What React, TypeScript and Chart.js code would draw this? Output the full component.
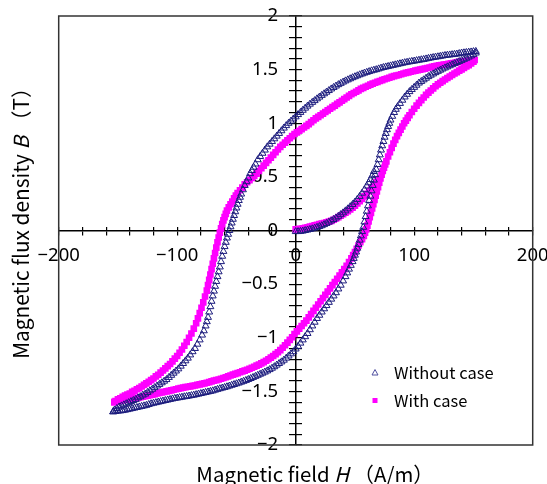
import React, { useEffect, useRef } from 'react';
import { Chart, registerables } from 'chart.js';

Chart.register(...registerables);

const FONT_CJK = '"Noto Sans CJK JP", "Noto Sans", sans-serif';
const FONT_TICK = '"Noto Sans", sans-serif';

// ---- axis ranges and labelled ticks ----
const xRange = [-200, 200];
const yRange = [-2, 2];
const xLabelledTicks = [-200, -100, 0, 100, 200];
const yLabelledTicks = [-2, -1.5, -1, -0.5, 0, 0.5, 1, 1.5, 2];
const xMinorStep = 20;
const yMinorStep = 0.1;

const seriesNames = ['Without case', 'With case'];
const xTitle = ['Magnetic field ', 'H', ' \uFF08A/m\uFF09'];
const yTitle = ['Magnetic flux density ', 'B', ' \uFF08T\uFF09'];

// ---- Without case: [H (A/m), B (T)] ----
const withoutInitial: [number, number][] = [
  [0, -0.01], [2, -0.01], [4, -0.008], [6, -0.005], [8, 0], [10, 0.005], [12, 0.01], [14, 0.016],
  [16, 0.022], [18, 0.03], [20, 0.037], [22, 0.045], [24, 0.055], [26, 0.066], [28, 0.078],
  [30, 0.09], [32, 0.103], [34, 0.117], [36, 0.132], [38, 0.148], [40, 0.165], [42, 0.183],
  [44, 0.202], [46, 0.222], [48, 0.243], [50, 0.265], [52, 0.29], [54, 0.318], [56, 0.348],
  [58, 0.38], [60, 0.415], [61.5, 0.445], [63, 0.475], [64.5, 0.51], [66, 0.55],
];

const withoutDescending: [number, number][] = [
  [152, 1.67], [150, 1.668], [148, 1.665], [146, 1.663], [144, 1.66], [142, 1.657], [140, 1.655],
  [138, 1.65], [136, 1.645], [134, 1.643], [132, 1.64], [130, 1.637], [128, 1.635], [126, 1.632],
  [124, 1.628], [122, 1.624], [120, 1.62], [118, 1.617], [116, 1.613], [114, 1.609], [112, 1.605],
  [110, 1.6], [108, 1.595], [106, 1.592], [104, 1.588], [102, 1.584], [100, 1.58], [98, 1.577],
  [96, 1.573], [94, 1.569], [92, 1.565], [90, 1.56], [88, 1.555], [86, 1.55], [84, 1.545],
  [82, 1.54], [80, 1.535], [78, 1.53], [76, 1.525], [74, 1.52], [72, 1.514], [70, 1.507],
  [68, 1.5], [66, 1.495], [64, 1.489], [62, 1.482], [60, 1.475], [58, 1.468], [56, 1.46],
  [54, 1.452], [52, 1.443], [50, 1.434], [48, 1.425], [46, 1.415], [44, 1.405], [42, 1.395],
  [40, 1.384], [38, 1.372], [36, 1.36], [34, 1.347], [32, 1.334], [30, 1.32], [28, 1.305],
  [26, 1.29], [24, 1.275], [22, 1.26], [20, 1.244], [18, 1.228], [16, 1.211], [14, 1.195],
  [12, 1.178], [10, 1.16], [8, 1.141], [6, 1.121], [4, 1.101], [2, 1.081], [0, 1.06],
  [-2, 1.04], [-4, 1.02], [-6, 1.0], [-8, 0.978], [-10, 0.955], [-12, 0.93], [-14, 0.905],
  [-16, 0.88], [-18, 0.855], [-20, 0.83], [-22, 0.805], [-24, 0.78], [-26, 0.75], [-28, 0.72],
  [-30, 0.69], [-32, 0.66], [-34, 0.62], [-35.5, 0.59], [-37, 0.56], [-38.5, 0.53], [-40, 0.49],
  [-41.5, 0.455], [-43, 0.42], [-44.5, 0.38], [-46, 0.34], [-47, 0.31], [-48, 0.28], [-49, 0.245],
  [-50, 0.21], [-51, 0.175], [-52, 0.14], [-53, 0.105], [-54, 0.07], [-55, 0.035], [-56, 0],
  [-57, -0.035], [-58, -0.07], [-59, -0.11], [-60, -0.15], [-61, -0.195], [-62, -0.24],
  [-63, -0.29], [-64, -0.34], [-65, -0.385], [-66, -0.43], [-67, -0.475], [-68, -0.52],
  [-69, -0.565], [-70, -0.61], [-71, -0.66], [-72, -0.71], [-73, -0.76], [-74, -0.81],
  [-75, -0.85], [-76, -0.89], [-77.5, -0.935], [-79, -0.975], [-81, -1.02], [-83, -1.06],
  [-85, -1.1], [-87, -1.13], [-89, -1.16], [-91, -1.19], [-93, -1.215], [-95, -1.24],
  [-97, -1.265], [-99, -1.29], [-101, -1.31], [-103, -1.33], [-105, -1.35], [-107, -1.37],
  [-109, -1.39], [-111, -1.405], [-113, -1.42], [-115, -1.435], [-117, -1.45], [-119, -1.465],
  [-121, -1.48], [-123, -1.495], [-125, -1.51], [-127, -1.525], [-129, -1.535], [-131, -1.55],
  [-133, -1.56], [-135, -1.575], [-137, -1.585], [-139, -1.595], [-141, -1.605], [-143, -1.615],
  [-145, -1.625], [-147, -1.635], [-149, -1.645], [-151, -1.66], [-153, -1.675], [-154, -1.69],
];

const withoutAscending: [number, number][] = [
  [-154, -1.69], [-152, -1.687], [-150, -1.684], [-148, -1.682], [-146, -1.679], [-144, -1.675],
  [-142, -1.67], [-140, -1.665], [-138, -1.66], [-136, -1.655], [-134, -1.65], [-132, -1.645],
  [-130, -1.64], [-128, -1.635], [-126, -1.63], [-124, -1.622], [-122, -1.615], [-120, -1.61],
  [-118, -1.605], [-116, -1.6], [-114, -1.595], [-112, -1.59], [-110, -1.585], [-108, -1.58],
  [-106, -1.575], [-104, -1.57], [-102, -1.565], [-100, -1.562], [-98, -1.558], [-96, -1.554],
  [-94, -1.55], [-92, -1.547], [-90, -1.543], [-88, -1.539], [-86, -1.535], [-84, -1.53],
  [-82, -1.525], [-80, -1.52], [-78, -1.515], [-76, -1.51], [-74, -1.505], [-72, -1.5],
  [-70, -1.495], [-68, -1.488], [-66, -1.481], [-64, -1.475], [-62, -1.469], [-60, -1.463],
  [-58, -1.457], [-56, -1.45], [-54, -1.443], [-52, -1.436], [-50, -1.429], [-48, -1.422],
  [-46, -1.414], [-44, -1.406], [-42, -1.398], [-40, -1.389], [-38, -1.38], [-36, -1.37],
  [-34, -1.36], [-32, -1.35], [-30, -1.34], [-28, -1.33], [-26, -1.32], [-24, -1.309],
  [-22, -1.297], [-20, -1.284], [-18, -1.27], [-16, -1.255], [-14, -1.24], [-12, -1.225],
  [-10, -1.209], [-8, -1.19], [-6, -1.17], [-4, -1.15], [-2, -1.13], [0, -1.105], [2, -1.08],
  [4, -1.05], [6, -1.02], [8, -0.99], [10, -0.96], [12, -0.925], [14, -0.89], [16, -0.855],
  [18, -0.82], [20, -0.79], [22, -0.76], [24, -0.73], [26, -0.7], [28, -0.67], [30, -0.64],
  [32, -0.61], [34, -0.58], [36, -0.545], [38, -0.51], [40, -0.47], [42, -0.43], [43.5, -0.395],
  [45, -0.36], [46.5, -0.325], [48, -0.29], [49, -0.26], [50, -0.23], [51, -0.2], [52, -0.165],
  [53, -0.13], [54, -0.09], [55, -0.05], [56, -0.01], [57, 0.03], [58, 0.08], [59, 0.13],
  [60, 0.18], [61, 0.23], [62, 0.28], [63, 0.32], [64, 0.37], [65, 0.42], [66, 0.47], [67, 0.52],
  [68, 0.57], [69, 0.615], [70, 0.66], [71, 0.705], [72, 0.75], [73, 0.79], [74, 0.83],
  [75, 0.87], [76, 0.905], [77, 0.94], [78, 0.97], [79, 1.0], [80, 1.03], [81.5, 1.065],
  [83, 1.1], [84.5, 1.13], [86, 1.155], [88, 1.185], [90, 1.215], [92, 1.245], [94, 1.27],
  [96, 1.295], [98, 1.315], [100, 1.335], [102, 1.355], [104, 1.375], [106, 1.39], [108, 1.405],
  [110, 1.42], [112, 1.435], [114, 1.448], [116, 1.46], [118, 1.472], [120, 1.484], [122, 1.495],
  [124, 1.506], [126, 1.516], [128, 1.526], [130, 1.536], [132, 1.546], [134, 1.556],
  [136, 1.566], [138, 1.576], [140, 1.586], [142, 1.596], [144, 1.606], [146, 1.617],
  [148, 1.628], [150, 1.64], [152, 1.655],
];

// ---- With case: [H (A/m), B (T)] ----
const withInitial: [number, number][] = [
  [0, 0.01], [2, 0.013], [4, 0.016], [6, 0.02], [8, 0.025], [10, 0.03], [12, 0.036], [14, 0.042],
  [16, 0.048], [18, 0.054], [20, 0.06], [22, 0.065], [24, 0.07], [26, 0.076], [28, 0.083],
  [30, 0.09], [32, 0.1], [34, 0.112], [36, 0.125], [38, 0.138], [40, 0.152], [42, 0.166],
  [44, 0.18], [46, 0.196], [48, 0.213], [50, 0.232], [52, 0.252], [54, 0.273], [56, 0.295],
  [58, 0.318], [60, 0.342], [62, 0.367], [64, 0.393], [66, 0.42], [68, 0.45], [70, 0.48],
];

const withDescending: [number, number][] = [
  [151, 1.59], [149, 1.588], [147, 1.585], [145, 1.583], [143, 1.58], [141, 1.577], [139, 1.574],
  [137, 1.57], [135, 1.566], [133, 1.562], [131, 1.558], [129, 1.554], [127, 1.55], [125, 1.547],
  [123, 1.543], [121, 1.539], [119, 1.535], [117, 1.53], [115, 1.525], [113, 1.52], [111, 1.515],
  [109, 1.51], [107, 1.505], [105, 1.5], [103, 1.495], [101, 1.49], [99, 1.485], [97, 1.48],
  [95, 1.475], [93, 1.47], [91, 1.464], [89, 1.457], [87, 1.45], [85, 1.445], [83, 1.44],
  [81, 1.432], [79, 1.424], [77, 1.417], [75, 1.41], [73, 1.402], [71, 1.394], [69, 1.386],
  [67, 1.378], [65, 1.369], [63, 1.36], [61, 1.35], [59, 1.34], [57, 1.33], [55, 1.32],
  [53, 1.307], [51, 1.294], [49, 1.282], [47, 1.27], [45, 1.255], [43, 1.24], [41, 1.225],
  [39, 1.21], [37, 1.195], [35, 1.18], [33, 1.165], [31, 1.15], [29, 1.135], [27, 1.12],
  [25, 1.105], [23, 1.09], [21, 1.075], [19, 1.06], [17, 1.045], [15, 1.028], [13, 1.01],
  [11, 0.992], [9, 0.976], [7, 0.96], [5, 0.945], [3, 0.93], [1, 0.915], [-1, 0.9], [-3, 0.88],
  [-5, 0.86], [-7, 0.84], [-9, 0.82], [-11, 0.8], [-13, 0.78], [-15, 0.755], [-17, 0.73],
  [-19, 0.705], [-21, 0.68], [-23, 0.655], [-25, 0.63], [-27, 0.605], [-29, 0.58], [-31, 0.555],
  [-33, 0.53], [-35, 0.51], [-37, 0.49], [-39, 0.47], [-41, 0.45], [-43, 0.43], [-45, 0.4],
  [-47, 0.375], [-49, 0.35], [-50.5, 0.325], [-52, 0.3], [-53.5, 0.27], [-55, 0.245],
  [-56.5, 0.215], [-58, 0.185], [-59, 0.155], [-60, 0.125], [-61, 0.095], [-62, 0.06],
  [-63, 0.02], [-64, -0.02], [-65, -0.065], [-66, -0.11], [-67, -0.16], [-68, -0.21],
  [-69, -0.26], [-70, -0.31], [-71, -0.36], [-72, -0.41], [-73, -0.46], [-74, -0.51],
  [-75, -0.56], [-76.5, -0.615], [-78, -0.67], [-79.5, -0.72], [-81, -0.77], [-82.5, -0.82],
  [-84, -0.865], [-86, -0.915], [-88, -0.96], [-90, -1.0], [-92, -1.04], [-94, -1.075],
  [-96, -1.11], [-98, -1.14], [-100, -1.17], [-102, -1.195], [-104, -1.22], [-106, -1.245],
  [-108, -1.265], [-110, -1.285], [-112, -1.305], [-114, -1.325], [-116, -1.345], [-118, -1.36],
  [-120, -1.38], [-122, -1.395], [-124, -1.41], [-126, -1.425], [-128, -1.44], [-130, -1.455],
  [-132, -1.47], [-134, -1.48], [-136, -1.495], [-138, -1.505], [-140, -1.52], [-142, -1.53],
  [-144, -1.54], [-146, -1.55], [-148, -1.565], [-150, -1.575], [-152, -1.59], [-153, -1.6],
];

const withAscending: [number, number][] = [
  [-153, -1.6], [-151, -1.595], [-149, -1.59], [-147, -1.585], [-145, -1.58], [-143, -1.578],
  [-141, -1.575], [-139, -1.572], [-137, -1.568], [-135, -1.564], [-133, -1.56], [-131, -1.555],
  [-129, -1.55], [-127, -1.545], [-125, -1.54], [-123, -1.535], [-121, -1.53], [-119, -1.525],
  [-117, -1.52], [-115, -1.515], [-113, -1.51], [-111, -1.505], [-109, -1.5], [-107, -1.495],
  [-105, -1.49], [-103, -1.485], [-101, -1.48], [-99, -1.475], [-97, -1.47], [-95, -1.465],
  [-93, -1.46], [-91, -1.457], [-89, -1.453], [-87, -1.449], [-85, -1.445], [-83, -1.44],
  [-81, -1.435], [-79, -1.43], [-77, -1.425], [-75, -1.42], [-73, -1.414], [-71, -1.407],
  [-69, -1.4], [-67, -1.395], [-65, -1.389], [-63, -1.382], [-61, -1.375], [-59, -1.368],
  [-57, -1.36], [-55, -1.352], [-53, -1.344], [-51, -1.337], [-49, -1.33], [-47, -1.322],
  [-45, -1.314], [-43, -1.306], [-41, -1.298], [-39, -1.289], [-37, -1.28], [-35, -1.27],
  [-33, -1.26], [-31, -1.25], [-29, -1.239], [-27, -1.227], [-25, -1.214], [-23, -1.2],
  [-21, -1.185], [-19, -1.17], [-17, -1.153], [-15, -1.135], [-13, -1.115], [-11, -1.093],
  [-9, -1.07], [-7, -1.045], [-5, -1.02], [-3, -0.995], [-1, -0.965], [1, -0.94], [3, -0.915],
  [5, -0.89], [7, -0.865], [9, -0.84], [11, -0.81], [13, -0.78], [15, -0.75], [17, -0.72],
  [19, -0.69], [21, -0.66], [23, -0.63], [25, -0.6], [27, -0.57], [29, -0.54], [31, -0.51],
  [33, -0.48], [35, -0.45], [37, -0.42], [39, -0.39], [41, -0.36], [43, -0.33], [45, -0.295],
  [47, -0.26], [48.5, -0.23], [50, -0.2], [51.5, -0.17], [53, -0.14], [54.5, -0.11], [56, -0.08],
  [57.5, -0.05], [58.5, -0.02], [59.5, 0.01], [60.5, 0.045], [61.5, 0.085], [62.5, 0.125],
  [63.5, 0.165], [64.5, 0.205], [65.5, 0.245], [66.5, 0.285], [67.5, 0.325], [68.5, 0.365],
  [69.5, 0.405], [70.5, 0.445], [71.5, 0.485], [72.5, 0.52], [73.5, 0.555], [74.5, 0.585],
  [75.5, 0.615], [76.5, 0.645], [78, 0.69], [79.5, 0.73], [81, 0.77], [82.5, 0.81], [84, 0.845],
  [85.5, 0.88], [87, 0.91], [88.5, 0.94], [90, 0.97], [91.5, 1.0], [93, 1.025], [94.5, 1.05],
  [96, 1.075], [98, 1.105], [100, 1.135], [102, 1.165], [104, 1.19], [106, 1.215], [108, 1.24],
  [110, 1.265], [112, 1.285], [114, 1.305], [116, 1.325], [118, 1.345], [120, 1.362],
  [122, 1.378], [124, 1.393], [126, 1.408], [128, 1.422], [130, 1.436], [132, 1.45],
  [134, 1.464], [136, 1.477], [138, 1.49], [140, 1.503], [142, 1.516], [144, 1.529],
  [146, 1.542], [148, 1.557], [150, 1.575],
];

const toPoints = (...parts: [number, number][][]) =>
  parts.flat().map(([x, y]) => ({ x, y }));

const fmt = (v: number) => (v < 0 ? '\u2212' + String(Math.abs(v)) : String(v));
const isLabelled = (v: number, list: number[]) => list.some((t) => Math.abs(t - v) < 1e-6);

const NAVY = 'rgb(28, 28, 125)';
const MAGENTA = '#ff00ff';

const zeroPadding = (scale: any) => {
  scale.paddingLeft = 0;
  scale.paddingRight = 0;
  scale.paddingTop = 0;
  scale.paddingBottom = 0;
};

const decorPlugin = {
  id: 'decor',
  afterDraw(chart: any) {
    const { ctx, chartArea: a } = chart;
    ctx.save();
    // frame
    ctx.strokeStyle = '#333';
    ctx.lineWidth = 1.5;
    ctx.strokeRect(a.left, a.top, a.right - a.left, a.bottom - a.top);

    const drawMixed = (parts: string[], size: number) => {
      const fonts = [`${size}px ${FONT_CJK}`, `italic ${size}px ${FONT_CJK}`, `${size}px ${FONT_CJK}`];
      let total = 0;
      const widths = parts.map((p, i) => {
        ctx.font = fonts[i];
        const w = ctx.measureText(p).width;
        total += w;
        return w;
      });
      let x = -total / 2;
      parts.forEach((p, i) => {
        ctx.font = fonts[i];
        ctx.fillText(p, x, 0);
        x += widths[i];
      });
    };

    ctx.fillStyle = '#000';
    ctx.textBaseline = 'middle';
    ctx.textAlign = 'left';
    // x title
    ctx.save();
    ctx.translate(315, 474);
    drawMixed(xTitle, 20.4);
    ctx.restore();
    // y title
    ctx.save();
    ctx.translate(21, 218);
    ctx.rotate(-Math.PI / 2);
    drawMixed(yTitle, 20.8);
    ctx.restore();

    // legend
    ctx.font = `16.5px ${FONT_CJK}`;
    ctx.fillStyle = '#000';
    ctx.fillText(seriesNames[0], 394, 373);
    ctx.fillText(seriesNames[1], 394, 401);
    ctx.strokeStyle = 'rgb(80, 80, 160)';
    ctx.lineWidth = 1;
    ctx.beginPath();
    ctx.moveTo(375, 369.5);
    ctx.lineTo(378, 375);
    ctx.lineTo(372, 375);
    ctx.closePath();
    ctx.stroke();
    ctx.fillStyle = MAGENTA;
    ctx.fillRect(372.5, 398, 5, 5);
    ctx.restore();
  },
};

export default function App() {
  const ref = useRef<HTMLCanvasElement>(null);

  useEffect(() => {
    const tickFont = { family: FONT_TICK, size: 18.5 };
    const xGrid = { drawOnChartArea: false, drawTicks: true, tickLength: 4, color: '#000', lineWidth: 1.2 };
    const yGrid = { ...xGrid, tickLength: 6 };
    const chart = new Chart(ref.current as HTMLCanvasElement, {
      type: 'scatter',
      data: {
        datasets: [
          {
            label: seriesNames[0],
            data: toPoints(withoutInitial, withoutDescending, withoutAscending),
            pointStyle: 'triangle',
            pointRadius: 4,
            borderWidth: 1,
            borderColor: NAVY,
            backgroundColor: 'rgba(0,0,0,0)',
            showLine: false,
          },
          {
            label: seriesNames[1],
            data: toPoints(withInitial, withDescending, withAscending),
            pointStyle: 'rect',
            pointRadius: 4.7,
            borderWidth: 0,
            borderColor: MAGENTA,
            backgroundColor: MAGENTA,
            showLine: false,
          },
        ],
      },
      options: {
        animation: false,
        responsive: false,
        devicePixelRatio: 1,
        events: [],
        layout: { padding: { left: 58.7, top: 16, right: 14.3, bottom: 39 } },
        plugins: { legend: { display: false }, tooltip: { enabled: false } },
        scales: {
          x: {
            type: 'linear',
            position: 'center',
            min: xRange[0],
            max: xRange[1],
            grid: xGrid,
            border: { display: true, color: '#000', width: 1.5 },
            afterFit: zeroPadding,
            ticks: {
              stepSize: xMinorStep,
              autoSkip: false,
              maxRotation: 0,
              padding: 10,
              color: '#000',
              font: tickFont,
              callback: (v: any) => (isLabelled(Number(v), xLabelledTicks) ? fmt(Math.round(Number(v))) : ''),
            },
          },
          y: {
            type: 'linear',
            position: 'center',
            min: yRange[0],
            max: yRange[1],
            grid: yGrid,
            border: { display: true, color: '#000', width: 1.5 },
            afterFit: zeroPadding,
            ticks: {
              stepSize: yMinorStep,
              autoSkip: false,
              padding: 11.5,
              color: '#000',
              font: tickFont,
              callback: (v: any) =>
                isLabelled(Number(v), yLabelledTicks) ? fmt(Math.round(Number(v) * 10) / 10) : '',
            },
          },
          x2: {
            type: 'linear',
            axis: 'x',
            display: true,
            position: 'center',
            min: xRange[0],
            max: xRange[1],
            grid: { ...xGrid, tickLength: -4 },
            border: { display: false },
            afterFit: zeroPadding,
            ticks: { stepSize: xMinorStep, autoSkip: false, display: false },
          },
          y2: {
            type: 'linear',
            axis: 'y',
            display: true,
            position: 'center',
            min: yRange[0],
            max: yRange[1],
            grid: { ...yGrid, tickLength: -6 },
            border: { display: false },
            afterFit: zeroPadding,
            ticks: { stepSize: yMinorStep, autoSkip: false, display: false },
          },
        },
      },
      plugins: [decorPlugin],
    } as any);
    return () => chart.destroy();
  }, []);

  return (
    <div style={{ position: 'fixed', left: 0, top: 0, width: 547, height: 484, background: '#fff' }}>
      <canvas ref={ref} width={547} height={484} style={{ display: 'block', width: 547, height: 484 }} />
    </div>
  );
}
